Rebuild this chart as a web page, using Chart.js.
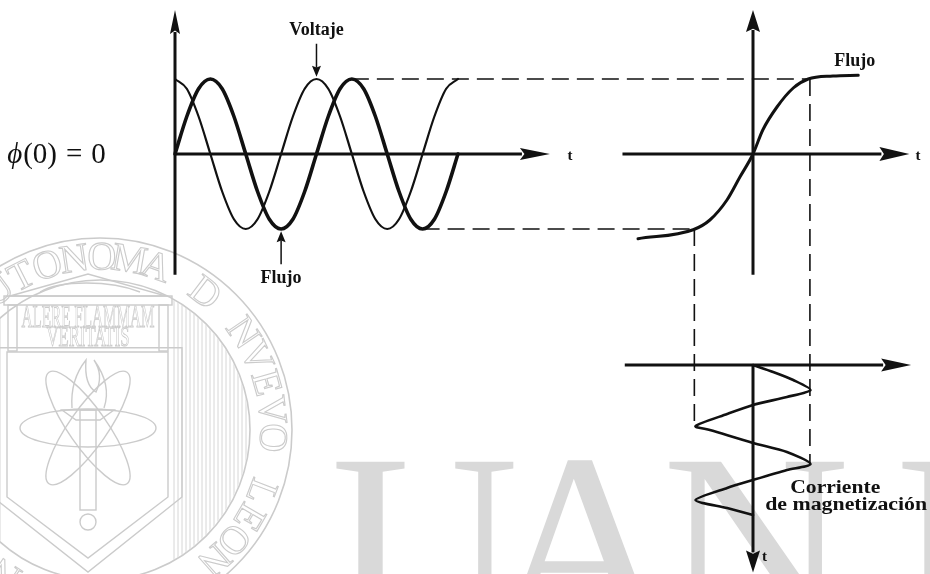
<!DOCTYPE html>
<html><head><meta charset="utf-8">
<script src="https://cdn.jsdelivr.net/npm/chart.js@4.4.0/dist/chart.umd.min.js"></script>
<style>html,body{margin:0;padding:0;background:#fff;}canvas{display:block;}</style>
</head><body>
<canvas id="c" width="930" height="574"></canvas>
<script>
// ---------------- DATA ----------------
// Left plot: angle (degrees of ωt), voltage and flux (per unit)
const angleDeg = [0,30,60,90,120,150,180,210,240,270,300,330,360,390,420,450,480,510,540,570,600,630,660,690,720];
const voltage  = [1,0.87,0.5,0,-0.5,-0.87,-1,-0.87,-0.5,0,0.5,0.87,1,0.87,0.5,0,-0.5,-0.87,-1,-0.87,-0.5,0,0.5,0.87,1];
const flux     = [0,0.5,0.87,1,0.87,0.5,0,-0.5,-0.87,-1,-0.87,-0.5,0,0.5,0.87,1,0.87,0.5,0,-0.5,-0.87,-1,-0.87,-0.5,0];
// Right plot: magnetisation curve, current (per unit) vs flux (per unit)
const bhCurrent = [-2.0,-1.04,-0.75,-0.45,-0.23,0,0.17,0.42,0.70,0.96,1.39,1.83];
const bhFlux    = [-1.13,-1.01,-0.88,-0.61,-0.31,0,0.32,0.63,0.88,1.0,1.04,1.05];
// Bottom plot: magnetising current vs time (time runs downward)
const magTime    = [0,34,73,122,156,195,239,298,317,380,424,483,512,561,600,659,698,732];
const magCurrent = [0,0.35,0.70,1.0,0.59,0,-0.45,-1.0,-0.75,0,0.59,1.0,0.59,0,-0.45,-1.0,-0.45,0];
// Texts
const labelVoltage = 'Voltaje';
const labelFlux = 'Flujo';
const labelTime = 't';
const labelCurrent = ['Corriente','de magnetización'];
const labelInit = ['ϕ','(0) = 0'];

// ---------------- LAYOUT ----------------
const W = 930, H = 574;
const A = { xT:{p:175,k:0.393}, xI:{p:753,k:57.5}, yF:{p:154,k:75}, yT:{p:365,k:0.205} };
const INK = '#111';

const pts = (xs, ys) => xs.map((v,i)=>({x:v, y:ys[i]}));

function P(chart, xs, xv, ys, yv){
  return [chart.scales[xs].getPixelForValue(xv), chart.scales[ys].getPixelForValue(yv)];
}
function arrow(ctx, x1,y1,x2,y2, lw, hl, hw){
  const a = Math.atan2(y2-y1, x2-x1), c=Math.cos(a), s=Math.sin(a);
  const bx = x2 - hl*c, by = y2 - hl*s;
  ctx.beginPath(); ctx.moveTo(x1,y1); ctx.lineTo(bx+2*c,by+2*s); ctx.lineWidth=lw; ctx.stroke();
  ctx.beginPath(); ctx.moveTo(x2,y2);
  ctx.lineTo(bx + hw*s, by - hw*c);
  ctx.lineTo(bx + hl*0.15*c, by + hl*0.15*s);
  ctx.lineTo(bx - hw*s, by + hw*c);
  ctx.closePath(); ctx.fill();
}

// axes in data units: [xScale, yScale, from, to, headLen, headHalf]
const axesDef = [
  ['xT','yF',[0,-1.61],[0,1.92],24,5],
  ['xT','yF',[0,0],[954,0],30,6],
  ['xI','yF',[0,-1.61],[0,1.92],22,7],
  ['xI','yF',[-2.27,0],[2.72,0],30,7],
  ['xI','yT',[-2.23,0],[2.75,0],30,6.5],
  ['xI','yT',[0,0],[0,1012],22,7],
];
// dashed guides: endpoints [xScale,xVal,yScale,yVal]
const guides = [
  [['xT',450,'yF',1],['xI',0.96,'yF',1]],
  [['xT',630,'yF',-1],['xI',-1.04,'yF',-1]],
  [['xI',-1.02,'yF',-1],['xI',-1.02,'yT',298]],
  [['xI',0.99,'yF',1],['xI',0.99,'yT',483]],
];

function stretchText(ctx, s, x, y, width, font, fill){
  ctx.save(); ctx.font=font; const w=ctx.measureText(s).width;
  ctx.translate(x,y); ctx.scale(width/w,1);
  if(fill) ctx.fillText(s,0,0); else ctx.strokeText(s,0,0);
  ctx.restore();
}

const drawPlugin = {
  id:'diagram',
  beforeDraw(chart){
    const ctx = chart.ctx;
    ctx.save();
    ctx.fillStyle='#fff'; ctx.fillRect(0,0,W,H);
    // ---- watermark (grey seal + letters) ----
    const g = '#cbcbcb';
    ctx.fillStyle = '#d9d9d9';
    ctx.font = '260px "Liberation Serif"';
    ctx.textBaseline='alphabetic';
    ctx.fillText('U', 331, 632);
    ctx.fillText('A', 488, 632);
    ctx.fillText('N', 662, 632);
    ctx.fillText('L', 895, 632);
    const cx=100, cy=430;
    ctx.strokeStyle=g; ctx.lineWidth=1.6;
    ctx.beginPath(); ctx.arc(cx,cy,192,0,Math.PI*2); ctx.stroke();
    ctx.beginPath(); ctx.arc(cx,cy,150,0,Math.PI*2); ctx.stroke();
    // curved legend
    const txt='UNIVERSIDAD AUTONOMA D NVEVO LEON';
    ctx.font='40px "Liberation Serif"'; ctx.lineWidth=1.1; ctx.textAlign='center'; ctx.textBaseline='middle';
    for(let i=0;i<txt.length;i++){
      const ang=(-117 + (i-14)*9.2)*Math.PI/180;
      ctx.save(); ctx.translate(cx+171*Math.cos(ang), cy+171*Math.sin(ang)); ctx.rotate(ang+Math.PI/2);
      ctx.strokeText(txt[i],0,0); ctx.restore();
    }
    // hatching
    ctx.save(); ctx.beginPath(); ctx.arc(cx,cy,149,0,Math.PI*2); ctx.clip();
    ctx.lineWidth=0.8;
    for(let x=174;x<256;x+=4){ ctx.beginPath(); ctx.moveTo(x,300); ctx.lineTo(x,600); ctx.stroke(); }
    for(let x=-60;x<4;x+=4){ ctx.beginPath(); ctx.moveTo(x,300); ctx.lineTo(x,600); ctx.stroke(); }
    ctx.restore();
    ctx.lineWidth=1.4;
    // pediment
    ctx.beginPath(); ctx.moveTo(10,296); ctx.lineTo(88,274); ctx.lineTo(166,296); ctx.closePath(); ctx.stroke();
    ctx.beginPath(); ctx.moveTo(40,292); ctx.bezierCurveTo(60,280,110,280,140,292); ctx.stroke();
    ctx.strokeRect(4,296,168,9);
    ctx.strokeRect(8,305,9,46); ctx.strokeRect(159,305,9,46);
    // motto
    ctx.lineWidth=1;
    stretchText(ctx,'ALERE FLAMMAM',88,319,133,'32px "Liberation Serif"');
    stretchText(ctx,'VERITATIS',88,338,83,'30px "Liberation Serif"');
    ctx.lineWidth=1.4;
    // shield
    for(const o of [0,14]){
      ctx.beginPath(); ctx.moveTo(7-o,352-o*0.3); ctx.lineTo(168+o,352-o*0.3); ctx.lineTo(168+o,497);
      ctx.lineTo(88,558+o); ctx.lineTo(7-o,497); ctx.closePath(); ctx.stroke();
    }
    // atom
    for(const r of [0,55,-55]){
      ctx.beginPath(); ctx.ellipse(88,428,68,19,r*Math.PI/180,0,Math.PI*2); ctx.stroke();
    }
    // torch
    ctx.strokeRect(80,410,16,100);
    ctx.beginPath(); ctx.moveTo(62,410); ctx.lineTo(114,410); ctx.lineTo(100,420); ctx.lineTo(76,420); ctx.closePath(); ctx.stroke();
    ctx.beginPath(); ctx.moveTo(72,408); ctx.quadraticCurveTo(70,380,86,360); ctx.quadraticCurveTo(84,385,96,392); ctx.quadraticCurveTo(104,375,94,360); ctx.quadraticCurveTo(112,385,104,408); ctx.stroke();
    ctx.beginPath(); ctx.arc(88,522,8,0,Math.PI*2); ctx.stroke();
    ctx.restore();
  },
  beforeDatasetsDraw(chart){
    const ctx = chart.ctx;
    ctx.save();
    ctx.strokeStyle=INK; ctx.fillStyle=INK; ctx.lineCap='butt';
    for(const [xs,ys,f,t,hl,hw] of axesDef){
      const [x1,y1]=P(chart,xs,f[0],ys,f[1]);
      const [x2,y2]=P(chart,xs,t[0],ys,t[1]);
      arrow(ctx,x1,y1,x2,y2,3,hl,hw);
    }
    ctx.lineWidth=1.6; ctx.setLineDash([17,8]);
    for(const [a,b] of guides){
      const [x1,y1]=P(chart,a[0],a[1],a[2],a[3]);
      const [x2,y2]=P(chart,b[0],b[1],b[2],b[3]);
      ctx.beginPath(); ctx.moveTo(x1,y1); ctx.lineTo(x2,y2); ctx.stroke();
    }
    ctx.restore();
  },
  afterDatasetsDraw(chart){
    const ctx = chart.ctx;
    ctx.save();
    ctx.fillStyle=INK; ctx.strokeStyle=INK;
    ctx.textAlign='center'; ctx.textBaseline='middle';
    ctx.font='bold 18px "Liberation Serif"';
    let p=P(chart,'xT',360,'yF',1.65); ctx.fillText(labelVoltage,p[0],p[1]);
    let a=P(chart,'xT',360,'yF',1.47), b=P(chart,'xT',360,'yF',1.03);
    arrow(ctx,a[0],a[1],b[0],b[1],1.5,11,4.5);
    p=P(chart,'xT',270,'yF',-1.66); ctx.fillText(labelFlux,p[0],p[1]);
    a=P(chart,'xT',270,'yF',-1.47); b=P(chart,'xT',270,'yF',-1.03);
    arrow(ctx,a[0],a[1],b[0],b[1],1.5,11,4.5);
    p=P(chart,'xI',1.77,'yF',1.23); ctx.fillText(labelFlux,p[0],p[1]);
    p=P(chart,'xI',1.43,'yT',600); stretchText(ctx,labelCurrent[0],p[0],p[1],90,'bold 18px "Liberation Serif"',true);
    p=P(chart,'xI',1.62,'yT',685); stretchText(ctx,labelCurrent[1],p[0],p[1],162,'bold 18px "Liberation Serif"',true);
    ctx.font='bold 15px "Liberation Serif"';
    p=P(chart,'xT',1005,'yF',0); ctx.fillText(labelTime,p[0],p[1]+2);
    p=P(chart,'xI',2.87,'yF',0); ctx.fillText(labelTime,p[0],p[1]+2);
    p=P(chart,'xI',0.2,'yT',937); ctx.fillText(labelTime,p[0],p[1]);
    // initial condition
    p=P(chart,'xT',-427,'yF',0);
    ctx.textAlign='left';
    ctx.font='italic 29px "Liberation Serif"'; ctx.fillText(labelInit[0],p[0],p[1]+1);
    const w=ctx.measureText(labelInit[0]).width;
    ctx.font='29px "Liberation Serif"';
    const parts = labelInit[1].split(' ');
    let x = p[0]+w+1;
    parts.forEach((s,i)=>{ ctx.fillText(s,x,p[1]+1); x += ctx.measureText(s).width + 9; });
    ctx.restore();
  }
};

const lineDs = (data, xID, yID, bw, extra) => Object.assign({
  data, xAxisID:xID, yAxisID:yID, borderColor:INK, borderWidth:bw, pointRadius:0, fill:false,
  borderCapStyle:'round', borderJoinStyle:'round'
}, extra||{});

const lin = (s, reverse) => {
  const L = A[s];
  if (s[0]==='x') return {type:'linear', display:false, bounds:'data', min:-L.p/L.k, max:(W-L.p)/L.k};
  if (reverse) return {type:'linear', display:false, bounds:'data', reverse:true, min:-L.p/L.k, max:(H-L.p)/L.k};
  return {type:'linear', display:false, bounds:'data', min:-(H-L.p)/L.k, max:L.p/L.k};
};

new Chart(document.getElementById('c'), {
  type:'line',
  data:{ datasets:[
    lineDs(pts(angleDeg, voltage),'xT','yF',2.2,{cubicInterpolationMode:'monotone'}),
    lineDs(pts(angleDeg, flux),'xT','yF',3.6,{cubicInterpolationMode:'monotone'}),
    lineDs(pts(bhCurrent, bhFlux),'xI','yF',3,{cubicInterpolationMode:'monotone'}),
    lineDs(pts(magCurrent, magTime),'xI','yT',2.6,{tension:0.25})
  ]},
  options:{
    responsive:false, animation:false, devicePixelRatio:1,
    layout:{padding:0},
    plugins:{legend:{display:false}, tooltip:{enabled:false}},
    events:[],
    scales:{ xT:lin('xT'), xI:lin('xI'), yF:lin('yF'), yT:lin('yT',true) }
  },
  plugins:[drawPlugin]
});
</script>
</body></html>
